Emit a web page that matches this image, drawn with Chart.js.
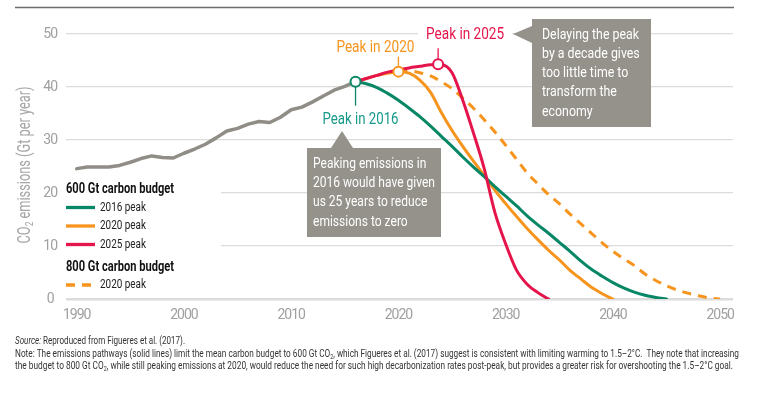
<!DOCTYPE html>
<html>
<head>
<meta charset="utf-8">
<script src="https://cdn.jsdelivr.net/npm/chart.js@4.4.1/dist/chart.umd.min.js"></script>
<style>
  html, body { margin: 0; padding: 0; background: #fff; }
  #wrap { position: relative; width: 771px; height: 397px; }
</style>
</head>
<body>
<div id="wrap"><canvas id="myChart"></canvas></div>
<script>
const FONT = 'Roboto, "Liberation Sans", sans-serif';

// historical emissions, Gt CO2 per year
const histYears = [1990, 1991, 1992, 1993, 1994, 1995, 1996, 1997, 1998, 1999, 2000, 2001, 2002, 2003,
  2004, 2005, 2006, 2007, 2008, 2009, 2010, 2011, 2012, 2013, 2014, 2015, 2016];
const histValues = [24.6, 24.9, 24.9, 24.9, 25.2, 25.8, 26.5, 27.0, 26.7, 26.6, 27.5, 28.3, 29.2, 30.4,
  31.7, 32.2, 33.0, 33.5, 33.3, 34.3, 35.7, 36.2, 37.2, 38.3, 39.4, 40.1, 41.0];

// 600 Gt budget pathways
const peak2016Years = [2016, 2017, 2018, 2019, 2020, 2021, 2022, 2023, 2024, 2025, 2026, 2027, 2028, 2029, 2030,
  2031, 2032, 2033, 2034, 2035, 2036, 2037, 2038, 2039, 2040, 2041, 2042, 2043, 2044, 2045];
const peak2016Values = [41.0, 40.6, 39.9, 38.8, 37.5, 36.0, 34.4, 32.6, 30.7, 28.8, 26.8, 24.9, 23.1, 21.2, 19.4,
  17.6, 15.7, 14.0, 12.4, 10.7, 9.0, 7.2, 5.6, 4.3, 3.1, 2.1, 1.3, 0.7, 0.3, 0];

const peak2020Years = [2016, 2017, 2018, 2019, 2020, 2021, 2022, 2023, 2024, 2025, 2026, 2027, 2028, 2029, 2030,
  2031, 2032, 2033, 2034, 2035, 2036, 2037, 2038, 2039, 2040];
const peak2020Values = [41.0, 41.6, 42.2, 42.6, 42.9, 42.6, 41.3, 39.0, 35.2, 31.8, 28.8, 26.0, 23.3, 20.5, 18.0,
  15.6, 13.3, 11.2, 9.2, 7.4, 5.4, 3.8, 2.2, 1.0, 0];

const peak2025Years = [2016, 2017, 2018, 2019, 2020, 2021, 2022, 2023, 2024, 2025, 2026, 2027, 2028, 2029, 2030,
  2031, 2032, 2033, 2034];
const peak2025Values = [41.0, 41.6, 42.2, 42.8, 43.2, 43.6, 43.9, 44.2, 44.2, 42.7, 37.5, 31.3, 24.6, 16.3, 10.4,
  5.5, 2.8, 1.2, 0];

// 800 Gt budget pathway
const budget800Years = [2020, 2021, 2022, 2023, 2024, 2025, 2026, 2027, 2028, 2029, 2030, 2031, 2032, 2033, 2034,
  2035, 2036, 2037, 2038, 2039, 2040, 2041, 2042, 2043, 2044, 2045, 2046, 2047, 2048, 2049, 2050];
const budget800Values = [42.9, 43.0, 42.7, 42.1, 41.0, 39.7, 37.9, 36.0, 33.8, 31.5, 29.0, 26.4, 23.8, 21.7, 19.7,
  18.0, 16.0, 14.2, 12.4, 10.6, 9.0, 7.6, 6.3, 4.7, 3.5, 2.5, 1.7, 1.1, 0.6, 0.2, 0];

const peakYears = [2016, 2020, 2023.7];
const peakValues = [41.0, 42.9, 44.3];
const peakLabels = ['Peak in 2016', 'Peak in 2020', 'Peak in 2025'];

const xTicks = [1990, 2000, 2010, 2020, 2030, 2040, 2050];
const yTicks = [0, 10, 20, 30, 40, 50];

const GREEN = '#078766';
const ORANGE = '#f7941d';
const RED = '#e5154c';
const GREY = '#8f8d85';
const BOX = '#94928a';
const TICK = '#a0a0a0';

const pts = (xs, ys) => xs.map((x, i) => ({x: x, y: ys[i]}));

// the source uses a condensed face; squeeze Roboto horizontally to fit the same widths
function fillFit(ctx, str, x, y, width, align) {
  const sx = width / ctx.measureText(str).width;
  ctx.save();
  ctx.translate(x, y);
  ctx.scale(sx, 1);
  ctx.textAlign = 'left';
  const w = ctx.measureText(str).width;
  const off = align === 'center' ? -w / 2 : (align === 'right' ? -w : 0);
  ctx.fillText(str, off, 0);
  ctx.restore();
}
function fillSq(ctx, str, x, y, sx) {
  ctx.save();
  ctx.translate(x, y);
  ctx.scale(sx, 1);
  ctx.textAlign = 'left';
  ctx.fillText(str, 0, 0);
  ctx.restore();
}

// text made of parts, some of them subscript
function richWidth(ctx, parts, size, weight) {
  let w = 0;
  parts.forEach(p => {
    ctx.font = (p.italic ? 'italic ' : '') + (weight || '') + ' ' + (p.sub ? size * 0.65 : size) + 'px ' + FONT;
    w += ctx.measureText(p.t).width;
  });
  return w;
}
function drawRich(ctx, parts, x, y, size, weight) {
  let cx = x;
  ctx.textAlign = 'left';
  parts.forEach(p => {
    const s = p.sub ? size * 0.65 : size;
    ctx.font = (p.italic ? 'italic ' : '') + (weight || '') + ' ' + s + 'px ' + FONT;
    ctx.fillText(p.t, cx, p.sub ? y + size * 0.3 : y);
    cx += ctx.measureText(p.t).width;
  });
}
function fitLine(ctx, parts, x, y, size, width, color) {
  const w = richWidth(ctx, parts, size);
  ctx.save();
  ctx.fillStyle = color;
  ctx.textBaseline = 'middle';
  ctx.translate(x, y);
  ctx.scale(width / w, 1);
  drawRich(ctx, parts, 0, 0, size);
  ctx.restore();
}

function callout(ctx, box, tri, lines, tx, ty, step, widest) {
  ctx.fillStyle = BOX;
  ctx.fillRect(box[0], box[1], box[2] - box[0], box[3] - box[1]);
  ctx.beginPath();
  ctx.moveTo(tri[0], tri[1]);
  ctx.lineTo(tri[2], tri[3]);
  ctx.lineTo(tri[4], tri[5]);
  ctx.closePath();
  ctx.fill();
  ctx.fillStyle = '#fff';
  ctx.font = '15px ' + FONT;
  ctx.textBaseline = 'middle';
  const sx = widest[1] / ctx.measureText(widest[0]).width;
  lines.forEach((l, i) => fillSq(ctx, l, tx, ty + i * step, sx));
}

const annotations = {
  id: 'annotations',
  beforeDraw(chart) {
    // tighten tick labels towards the condensed look of the original
    chart.ctx.letterSpacing = '-1px';
  },
  beforeDatasetsDraw(chart) {
    const {ctx} = chart;
    ctx.save();
    // legend sits on a white patch that hides the grid
    ctx.fillStyle = '#fff';
    ctx.fillRect(60, 181, 161, 111);
    ctx.restore();
  },
  afterDraw(chart) {
    const {ctx} = chart;
    ctx.save();
    ctx.letterSpacing = '0px';

    // top rule
    ctx.strokeStyle = '#6b6b6b';
    ctx.lineWidth = 1.5;
    ctx.beginPath();
    ctx.moveTo(15, 7.5);
    ctx.lineTo(734, 7.5);
    ctx.stroke();

    // y axis title
    ctx.save();
    ctx.fillStyle = '#a6a6a6';
    ctx.textBaseline = 'middle';
    const yTitle = [{t: 'CO'}, {t: '2', sub: true}, {t: ' emissions (Gt per year)'}];
    const tw = richWidth(ctx, yTitle, 18);
    ctx.translate(25, 165);
    ctx.rotate(-Math.PI / 2);
    ctx.scale(157 / tw, 1);
    drawRich(ctx, yTitle, -tw / 2, 0, 18);
    ctx.restore();

    // peak markers: connectors and labels
    const marks = chart.getDatasetMeta(0).data;
    ctx.lineWidth = 1.3;
    ctx.textBaseline = 'middle';
    ctx.font = '16px ' + FONT;
    // 2016
    let m = marks[0];
    ctx.strokeStyle = GREEN;
    ctx.beginPath(); ctx.moveTo(m.x, m.y + 5); ctx.lineTo(m.x, m.y + 24); ctx.stroke();
    ctx.fillStyle = '#17998a';
    fillFit(ctx, peakLabels[0], m.x + 5, m.y + 38, 76, 'center');
    // 2020
    m = marks[1];
    ctx.strokeStyle = ORANGE;
    ctx.beginPath(); ctx.moveTo(m.x, m.y - 5); ctx.lineTo(m.x, m.y - 15); ctx.stroke();
    ctx.fillStyle = ORANGE;
    fillFit(ctx, peakLabels[1], m.x - 23, m.y - 24, 78, 'center');
    // 2025
    m = marks[2];
    ctx.fillStyle = '#fff';
    ctx.fillRect(m.x - 20, m.y - 39, 94, 20);
    ctx.strokeStyle = RED;
    ctx.beginPath(); ctx.moveTo(m.x, m.y - 5); ctx.lineTo(m.x, m.y - 16); ctx.stroke();
    ctx.fillStyle = RED;
    fillFit(ctx, peakLabels[2], m.x + 27, m.y - 29, 78, 'center');

    // callouts
    callout(ctx, [532, 19, 651, 127], [513, 34, 532, 26, 532, 43],
      ['Delaying the peak', 'by a decade gives', 'too little time to', 'transform the', 'economy'],
      542, 35, 19.2, ['Delaying the peak', 97]);
    callout(ctx, [307, 148, 441, 237], [342, 131, 331, 148, 353, 148],
      ['Peaking emissions in', '2016 would have given', 'us 25 years to reduce', 'emissions to zero'],
      313, 164, 19.3, ['2016 would have given', 122]);

    // legend
    ctx.textBaseline = 'middle';
    ctx.fillStyle = '#111';
    ctx.font = 'bold 14px ' + FONT;
    fillFit(ctx, '600 Gt carbon budget', 66, 189, 108);
    fillFit(ctx, '800 Gt carbon budget', 66, 267, 108);
    const items = [[GREEN, '2016 peak', 207.5, false], [ORANGE, '2020 peak', 226, false],
      [RED, '2025 peak', 244.5, false], [ORANGE, '2020 peak', 285, true]];
    ctx.font = '13px ' + FONT;
    ctx.lineWidth = 3.3;
    items.forEach(it => {
      ctx.strokeStyle = it[0];
      ctx.setLineDash(it[3] ? [9, 7] : []);
      ctx.beginPath(); ctx.moveTo(66, it[2]); ctx.lineTo(95, it[2]); ctx.stroke();
      ctx.fillStyle = '#222';
      fillFit(ctx, it[1], 100, it[2], 46);
    });
    ctx.setLineDash([]);

    // source and note
    fitLine(ctx, [{t: 'Source:', italic: true}, {t: ' Reproduced from Figueres et al. (2017).'}], 15, 341, 10.5, 170, '#333');
    fitLine(ctx, [{t: 'Note: The emissions pathways (solid lines) limit the mean carbon budget to 600 Gt CO'}, {t: '2', sub: true},
      {t: ', which Figueres et al. (2017) suggest is consistent with limiting warming to 1.5\u20132\u00b0C.  They note that increasing'}],
      15, 354, 10.5, 724, '#333');
    fitLine(ctx, [{t: 'the budget to 800 Gt CO'}, {t: '2', sub: true},
      {t: ', while still peaking emissions at 2020, would reduce the need for such high decarbonization rates post-peak, but provides a greater risk for overshooting the 1.5\u20132\u00b0C goal.'}],
      15, 366, 10.5, 718, '#333');

    ctx.restore();
  }
};

const ctx = document.getElementById('myChart').getContext('2d');
const myChart = new Chart(ctx, {
  type: 'line',
  data: {
    datasets: [{
      label: 'Peaks',
      data: pts(peakYears, peakValues),
      showLine: false,
      pointRadius: 5,
      pointBorderWidth: 2,
      pointBackgroundColor: '#fff',
      pointBorderColor: [GREEN, ORANGE, RED],
      order: 0
    },
    {
      label: '2025 peak',
      data: pts(peak2025Years, peak2025Values),
      borderColor: RED,
      borderWidth: 3,
      cubicInterpolationMode: 'monotone',
      order: 1
    },
    {
      label: '2016 peak',
      data: pts(peak2016Years, peak2016Values),
      borderColor: GREEN,
      borderWidth: 3,
      cubicInterpolationMode: 'monotone',
      order: 2
    },
    {
      label: '2020 peak',
      data: pts(peak2020Years, peak2020Values),
      borderColor: ORANGE,
      borderWidth: 3,
      cubicInterpolationMode: 'monotone',
      order: 3
    },
    {
      label: '2020 peak (800 Gt)',
      data: pts(budget800Years, budget800Values),
      borderColor: ORANGE,
      borderWidth: 3,
      borderDash: [9, 7],
      borderCapStyle: 'butt',
      cubicInterpolationMode: 'monotone',
      order: 4
    },
    {
      label: 'Historical',
      data: pts(histYears, histValues),
      borderColor: GREY,
      borderWidth: 3.5,
      order: 5
    }]
  },
  options: {
    responsive: true,
    maintainAspectRatio: false,
    animation: false,
    elements: {
      point: { radius: 0 },
      line: { borderCapStyle: 'round', borderJoinStyle: 'round' }
    },
    layout: { padding: { top: 34, right: 38, bottom: 68, left: 0 } },
    plugins: {
      legend: { display: false },
      tooltip: { enabled: false }
    },
    scales: {
      x: {
        type: 'linear',
        min: 1989,
        max: 2051.2,
        afterBuildTicks: s => { s.ticks = xTicks.map(v => ({value: v})); },
        afterFit: s => { s.height = 30; },
        grid: { display: false, drawTicks: false },
        border: { display: false },
        ticks: {
          color: TICK,
          font: { family: FONT, size: 14 },
          padding: 8,
          maxRotation: 0,
          autoSkip: false,
          callback: v => String(v)
        }
      },
      y: {
        min: 0,
        max: 50,
        afterBuildTicks: s => { s.ticks = yTicks.map(v => ({value: v})); },
        afterFit: s => { s.width = 66; },
        grid: {
          color: '#dcdcdc',
          lineWidth: c => (c.tick && c.tick.value === 0 ? 2.5 : 1.2),
          drawTicks: false
        },
        border: { display: false },
        ticks: {
          color: TICK,
          font: { family: FONT, size: 14 },
          padding: 8,
          crossAlign: 'center'
        }
      }
    }
  },
  plugins: [annotations]
});
</script>
</body>
</html>
